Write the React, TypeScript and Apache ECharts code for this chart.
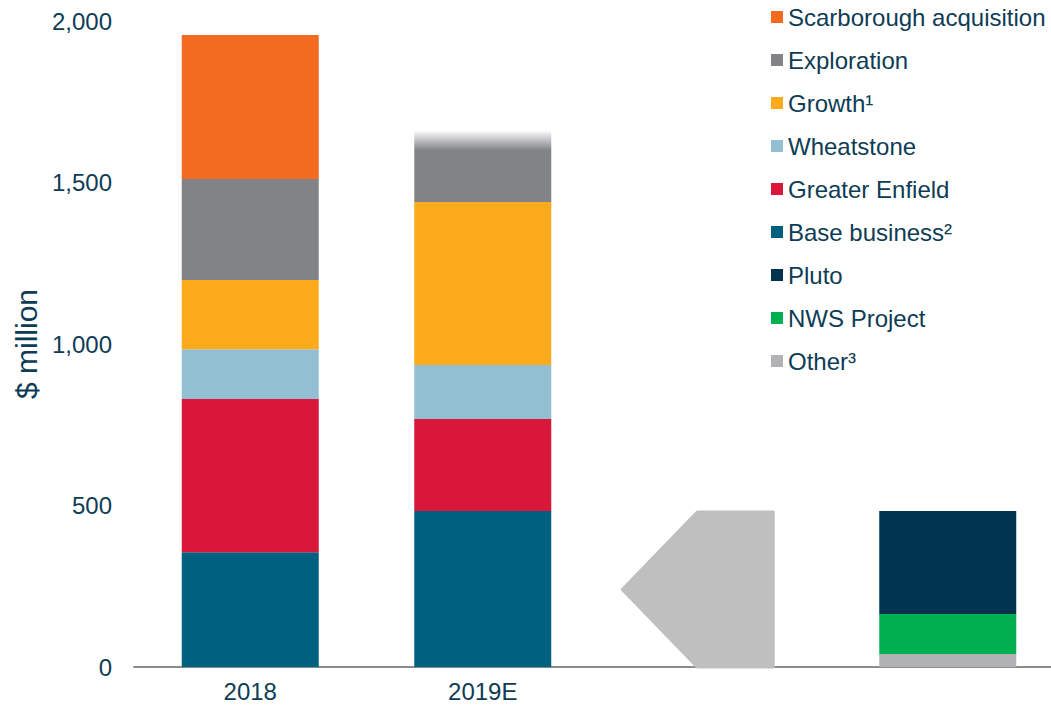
import React, { useEffect, useRef } from "react";
import * as echarts from "echarts";

const categories = ["2018", "2019E", "", ""];
const baseBusiness = [355, 483, "-", "-"];
const greaterEnfield = [475, 285, "-", "-"];
const wheatstone = [154, 167, "-", "-"];
const growth = [214, 505, "-", "-"];
const exploration = [313, 219, "-", "-"];
const scarborough = [446, "-", "-", "-"];
const other = ["-", "-", "-", 40];
const nwsProject = ["-", "-", "-", 124];
const pluto = ["-", "-", "-", 319];
const arrowData = [[2, 480]];
const yTicks = { min: 0, max: 2000, interval: 500 };

const legendOrder = [
  "Scarborough acquisition",
  "Exploration",
  "Growth¹",
  "Wheatstone",
  "Greater Enfield",
  "Base business²",
  "Pluto",
  "NWS Project",
  "Other³",
];

const textColor = "#0E3C55";
const font = "Arial, 'Liberation Sans', sans-serif";

export default function App() {
  const ref = useRef<HTMLDivElement>(null);
  useEffect(() => {
    if (!ref.current) return;
    const chart = echarts.init(ref.current, undefined, { renderer: "svg" });
    const barW = 137;
    const mk = (name: string, data: any[], color: any) => ({
      name,
      type: "bar",
      stack: "total",
      barWidth: barW,
      data,
      itemStyle: { color },
      emphasis: { disabled: true },
    });
    const explorationData = exploration.map((v, i) =>
      i === 1
        ? {
            value: v,
            itemStyle: {
              color: new echarts.graphic.LinearGradient(0, 0, 0, 1, [
                { offset: 0, color: "rgba(130,131,135,0.05)" },
                { offset: 0.27, color: "#828387" },
                { offset: 1, color: "#828387" },
              ]),
            },
          }
        : v
    );
    chart.setOption({
      animation: false,
      grid: { left: 134, right: 0, top: 21, bottom: 42, containLabel: false },
      legend: {
        data: legendOrder,
        orient: "vertical",
        left: 766,
        top: -1,
        itemWidth: 12,
        itemHeight: 12,
        itemGap: 17,
        icon: "rect",
        selectedMode: false,
        textStyle: { fontSize: 24, color: textColor, fontFamily: font, lineHeight: 26, padding: [0, 0, 0, 0] },
      },
      xAxis: {
        type: "category",
        data: categories,
        axisLine: { lineStyle: { color: "#8C8C8C", width: 2 } },
        axisTick: { show: false },
        axisLabel: { fontSize: 24, color: textColor, fontFamily: font, margin: 12 },
      },
      yAxis: {
        type: "value",
        min: yTicks.min,
        max: yTicks.max,
        interval: yTicks.interval,
        name: "$ million",
        nameLocation: "middle",
        nameGap: 92,
        nameTextStyle: { fontSize: 30, color: textColor, fontFamily: font },
        axisLine: { show: false },
        axisTick: { show: false },
        splitLine: { show: false },
        axisLabel: {
          fontSize: 24,
          color: textColor,
          fontFamily: font,
          margin: 22,
          formatter: (v: number) => v.toLocaleString("en-US"),
        },
      },
      series: [
        mk("Base business²", baseBusiness, "#006080"),
        mk("Greater Enfield", greaterEnfield, "#D9173A"),
        mk("Wheatstone", wheatstone, "#93BFD3"),
        mk("Growth¹", growth, "#FDAB1D"),
        mk("Exploration", explorationData, "#828387"),
        mk("Scarborough acquisition", scarborough, "#F26B21"),
        mk("Other³", other, "#B1B2B4"),
        mk("NWS Project", nwsProject, "#00AF50"),
        mk("Pluto", pluto, "#00344E"),
        {
          type: "custom",
          name: "arrow",
          data: arrowData,
          silent: true,
          renderItem: (params: any, api: any) => {
            const bottom = api.coord([api.value(0), 0]);
            const top = api.coord([api.value(0), api.value(1)]);
            const c = bottom[0];
            const yb = bottom[1];
            const yt = top[1];
            const ym = (yb + yt) / 2;
            return {
              type: "polygon",
              shape: {
                points: [
                  [c - 18, yt],
                  [c + 58, yt],
                  [c + 58, yb],
                  [c - 18, yb],
                  [c - 93, ym],
                ],
              },
              style: { fill: "#BFBFBF", stroke: "#BFBFBF", lineWidth: 3, lineJoin: "round" },
            };
          },
        },
      ],
    });
    return () => chart.dispose();
  }, []);
  return (
    <div style={{ position: "fixed", left: 0, top: 0, width: 1051, height: 709, overflow: "hidden", background: "#fff" }}>
      <div ref={ref} style={{ width: 1064, height: 709 }} />
    </div>
  );
}
